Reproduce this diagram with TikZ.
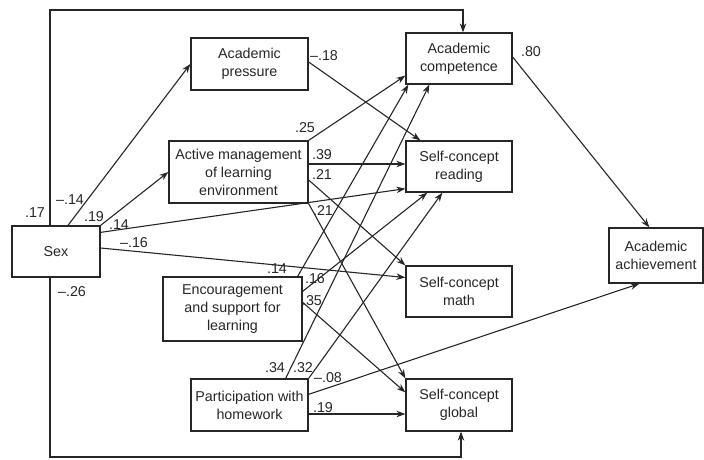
\documentclass[tikz,border=0pt]{standalone}
\usepackage{fontspec}
\setmainfont{Liberation Sans}
\usepackage{tikz}
\usetikzlibrary{arrows.meta}

\begin{document}
\begin{tikzpicture}[x=1pt, y=-1pt, line width=1.1pt, black!85,
    font=\fontsize{14.3pt}{18pt}\selectfont,
    box/.style = {draw, line width=1.3pt, align=center, inner sep=2pt},
    lbl/.style = {inner sep=0pt},
    arr/.style = {-{Stealth[length=9pt,width=6.5pt]}}]
            \useasboundingbox (0,0) rectangle (704,459);
            % Nodes
            \node[box, minimum width=88pt, minimum height=51pt] (sex) at (56,251.5) {Sex};
            \node[box, minimum width=117pt, minimum height=52pt] (press) at (249.5,64) {Academic\\pressure};
            \node[box, minimum width=139pt, minimum height=62pt] (active) at (238.5,172) {Active management\\of learning\\environment};
            \node[box, minimum width=139pt, minimum height=64pt] (encour) at (232.5,309) {Encouragement\\and support for\\learning};
            \node[box, minimum width=117pt, minimum height=52pt] (homew) at (249.5,405) {Participation with\\homework};
            \node[box, minimum width=106pt, minimum height=51pt] (comp) at (459,58.5) {Academic\\competence};
            \node[box, minimum width=106pt, minimum height=51pt] (read) at (459,166.5) {Self-concept\\reading};
            \node[box, minimum width=106pt, minimum height=51pt] (math) at (459,291.5) {Self-concept\\math};
            \node[box, minimum width=106pt, minimum height=52pt] (glob) at (459,405) {Self-concept\\global};
            \node[box, minimum width=94pt, minimum height=55pt] (achv) at (656,255.5) {Academic\\achievement};
            \coordinate (toploop) at (250,10);
            \coordinate (botloop) at (250,457);
            % Edges
            \draw[arr] ([xshift=-6pt]sex.north) |- (toploop) -| ([xshift=4pt]comp.north);
            \draw[arr] ([xshift=-6pt]sex.south) |- (botloop) -| ([xshift=2pt]glob.south);
            \draw[arr] ([xshift=12pt]sex.north) -- (press.west);
            \draw[arr] (sex.north east) -- (active.west);
            \draw[arr] ([yshift=-7pt]sex.north east) -- ([yshift=4pt]read.south west);
            \draw[arr] ([yshift=3.5pt]sex.east) -- ([yshift=14pt]math.west);
            \draw[arr] ([yshift=2pt]press.east) -- ([xshift=15pt]read.north west);
            \draw[arr] (active.north east) -- ([yshift=9pt]comp.south west);
            \draw[arr] ([yshift=8pt]active.east) -- ([yshift=2.5pt]read.west);
            \draw[arr] ([yshift=-8pt]active.east) -- (math.north west);
            \draw[arr] (active.south east) -- (glob.north west);
            \draw[arr] ([xshift=-5pt]encour.north east) -- ([xshift=3pt]comp.south west);
            \draw[arr] ([yshift=-15pt]encour.north east) -- ([xshift=22pt]read.south west);
            \draw[arr] ([yshift=-26pt]encour.north east) -- ([yshift=-14pt]glob.north west);
            \draw[arr] ([xshift=-23pt]homew.north east) -- ([xshift=24pt]comp.south west);
            \draw[arr] (homew.north east) -- ([xshift=37pt]read.south west);
            \draw[arr] ([yshift=-16pt]homew.north east) -- ([xshift=31pt]achv.south west);
            \draw[arr] ([yshift=-9pt]homew.east) -- ([yshift=-9pt]glob.west);
            \draw[arr] ([yshift=1.5pt]comp.east) -- ([xshift=41pt]achv.north west);
            % Path coefficients
            \node[lbl] (l-sc) at (35,213) {.17};
            \node[lbl] (l-sp) at (70,200) {--.14};
            \node[lbl] (l-sa) at (94,217) {.19};
            \node[lbl] (l-sr) at (119,225) {.14};
            \node[lbl] (l-sm) at (134,243) {--.16};
            \node[lbl] (l-sg) at (72,292) {--.26};
            \node[lbl] (l-pr) at (324,56) {--.18};
            \node[lbl] (l-ac) at (305,128) {.25};
            \node[lbl] (l-ar) at (322,155) {.39};
            \node[lbl] (l-am) at (322,175) {.21};
            \node[lbl] (l-ag) at (323,210) {.21};
            \node[lbl] (l-ca) at (531,52) {.80};
            \node[lbl] (l-ec) at (277,269) {.14};
            \node[lbl] (l-er) at (315,279) {.16};
            \node[lbl] (l-eg) at (312,301) {.35};
            \node[lbl] (l-hc) at (275,368) {.34};
            \node[lbl] (l-hr) at (303,368) {.32};
            \node[lbl] (l-ha) at (328,378) {--.08};
            \node[lbl] (l-hg) at (323,408) {.19};
\end{tikzpicture}
\end{document}
